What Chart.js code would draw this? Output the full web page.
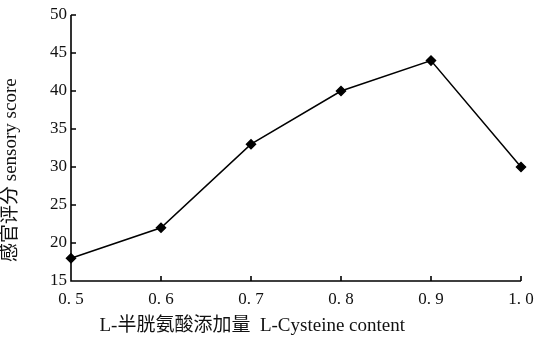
<!DOCTYPE html>
<html>
<head>
<meta charset="utf-8">
<script src="https://cdn.jsdelivr.net/npm/chart.js@4/dist/chart.umd.min.js"></script>
<style>
  html, body { margin: 0; padding: 0; background: #fff; }
  #wrap { width: 534px; height: 337px; }
</style>
</head>
<body>
<div id="wrap"><canvas id="c"></canvas></div>
<script>
// L-cysteine addition level vs. sensory score
const contentLevels = ['0. 5', '0. 6', '0. 7', '0. 8', '0. 9', '1. 0'];
const sensoryScores = [18, 22, 33, 40, 44, 30];
const yTickValues = [15, 20, 25, 30, 35, 40, 45, 50];

const serif = '"Liberation Serif", "Noto Sans CJK SC", serif';
const indent = '\u2002\u2002\u2002';

// Short tick marks drawn on the inner side of both axes
const inwardTicks = {
  id: 'inwardTicks',
  afterDraw(chart) {
    const ctx = chart.ctx;
    const xs = chart.scales.x, ys = chart.scales.y;
    const len = 5;
    ctx.save();
    ctx.strokeStyle = '#000';
    ctx.lineWidth = 1.6;
    ctx.beginPath();
    // axis lines
    ctx.moveTo(xs.left, ys.top);
    ctx.lineTo(xs.left, ys.bottom);
    ctx.lineTo(xs.right, ys.bottom);
    xs.ticks.forEach((t, i) => {
      const px = xs.getPixelForTick(i);
      ctx.moveTo(px, ys.bottom);
      ctx.lineTo(px, ys.bottom - len);
    });
    ys.ticks.forEach((t, i) => {
      const py = ys.getPixelForTick(i);
      ctx.moveTo(xs.left, py);
      ctx.lineTo(xs.left + len, py);
    });
    ctx.stroke();
    ctx.restore();
  }
};

new Chart(document.getElementById('c'), {
  type: 'line',
  data: {
    labels: contentLevels,
    datasets: [{
      data: sensoryScores,
      borderColor: '#000',
      backgroundColor: '#000',
      borderWidth: 1.5,
      pointStyle: 'rectRot',
      pointRadius: 4.5,
      pointHoverRadius: 4.5,
      tension: 0,
      clip: false
    }]
  },
  options: {
    responsive: true,
    maintainAspectRatio: false,
    animation: false,
    events: [],
    layout: { padding: { top: 15, right: 13, left: 0, bottom: 0 } },
    plugins: { legend: { display: false }, tooltip: { enabled: false } },
    scales: {
      x: {
        type: 'category',
        offset: false,
        border: { display: false },
        grid: { display: false, drawTicks: false },
        ticks: {
          color: '#111',
          font: { family: serif, size: 17 },
          padding: 8,
          maxRotation: 0,
          autoSkip: false
        },
        title: {
          display: true,
          align: 'start',
          text: indent + 'L-半胱氨酸添加量  L-Cysteine content',
          color: '#111',
          font: { family: serif, size: 19 },
          padding: { top: 4, bottom: 0 }
        },
        afterFit(s) {
          s.height = 56;
          s.paddingLeft = 0;
          s.paddingRight = 0;
        }
      },
      y: {
        min: 15,
        max: 50,
        border: { display: false },
        grid: { display: false, drawTicks: false },
        afterBuildTicks(s) { s.ticks = yTickValues.map(v => ({ value: v })); },
        ticks: {
          color: '#111',
          font: { family: serif, size: 17 },
          padding: 4
        },
        title: {
          display: true,
          align: 'start',
          text: '\u2002\u2002感官评分 sensory score',
          color: '#111',
          font: { family: serif, size: 19 },
          padding: { top: 0, bottom: 0 }
        },
        afterFit(s) {
          s.width = 71;
          s.paddingTop = 0;
          s.paddingBottom = 0;
        }
      }
    }
  },
  plugins: [inwardTicks]
});
</script>
</body>
</html>
